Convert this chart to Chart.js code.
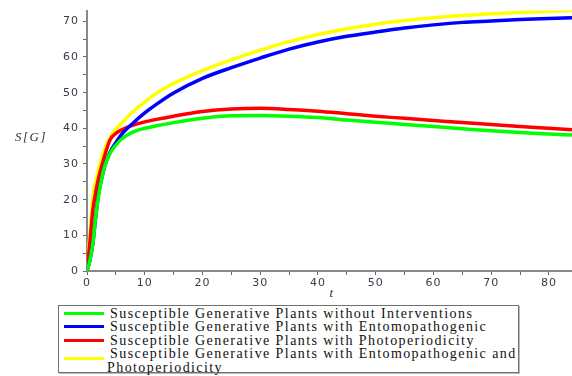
<!DOCTYPE html>
<html>
<head>
<meta charset="utf-8">
<script src="https://cdn.jsdelivr.net/npm/chart.js@4"></script>
<style>
  body { margin: 0; background: #fff; }
  #wrap { position: relative; width: 572px; height: 376px; }
  #legend {
    position: absolute; left: 58px; top: 305px; width: 461px; height: 68px;
    border: 1px solid #707070; box-shadow: 1px 1px 0 #bbb;
    font-family: "Liberation Serif", serif; font-size: 14px; color: #111;
    letter-spacing: 1.42px; white-space: nowrap;
    line-height: 13.4px; padding-top: 1px; box-sizing: border-box;
  }
  .row { position: relative; padding-left: 51px; }
  .row .swatch { position: absolute; left: 5px; top: 5px; width: 40px; height: 3px; }
  .row.two .swatch { top: 10px; }
  .row.two .cont { margin-left: -3px; }
</style>
</head>
<body>
<div id="wrap">
  <canvas id="chart" width="572" height="300"></canvas>
  <div id="legend"></div>
</div>
<script>
const times = [0, 0.5, 1, 1.5, 2, 3, 4, 5, 6, 8, 10, 12, 15, 20, 25, 30, 35, 40, 45, 50, 55, 60, 65, 70, 75, 80, 84];

const noIntervention = [0, 3, 7.5, 15, 21, 29, 33, 35.3, 37, 39, 40, 40.7, 41.6, 42.8, 43.5, 43.6, 43.4, 43, 42.3, 41.7, 41.1, 40.5, 39.9, 39.3, 38.8, 38.4, 38.1];
const entomo = [0, 3, 7.5, 15, 21.5, 29, 33.3, 36, 38.3, 41.5, 44.3, 46.7, 49.9, 54, 57, 59.7, 62.2, 64.2, 65.8, 67, 68.1, 69, 69.7, 70.1, 70.5, 70.8, 71];
const photo = [0, 8, 17, 22, 26, 32, 36.8, 38.6, 39.6, 40.9, 41.8, 42.5, 43.4, 44.7, 45.4, 45.6, 45.3, 44.8, 44.1, 43.4, 42.8, 42.2, 41.6, 41.1, 40.5, 40, 39.6];
const both = [0, 10, 20.5, 25, 28.5, 34, 37.5, 39.8, 41.5, 44.7, 47.4, 49.8, 52.6, 56.2, 59.2, 61.9, 64.3, 66.3, 67.9, 69.2, 70.2, 71, 71.6, 72.1, 72.5, 72.8, 73];

const seriesNames = [
  'Susceptible Generative Plants without Interventions',
  'Susceptible Generative Plants with Entomopathogenic',
  'Susceptible Generative Plants with Photoperiodicity',
  'Susceptible Generative Plants with Entomopathogenic and Photoperiodicity'
];
const seriesValues = [noIntervention, entomo, photo, both];
const seriesColors = ['#00ff00', '#0000ff', '#ff0000', '#ffff00'];

function pts(vals) {
  return times.map((t, i) => ({ x: t, y: vals[i] }));
}

// legend as html so the last entry can wrap like the original
const legend = document.getElementById('legend');
seriesNames.forEach((name, i) => {
  const row = document.createElement('div');
  row.className = 'row';
  if (i == 3) {
    row.classList.add('two');
    row.innerHTML = '<span class="swatch"></span>Susceptible Generative Plants with Entomopathogenic and<br><span class="cont">Photoperiodicity</span>';
  } else {
    row.innerHTML = '<span class="swatch"></span>' + name;
  }
  row.querySelector('.swatch').style.background = seriesColors[i];
  legend.appendChild(row);
});

// maple spaces its glyphs out a bit
const spacing = {
  id: 'spacing',
  beforeDraw(chart) { chart.ctx.letterSpacing = '1px'; }
};

const axisTitles = {
  id: 'axisTitles',
  afterDraw(chart) {
    const c = chart.ctx;
    c.save();
    c.fillStyle = '#333';
    c.letterSpacing = '1.5px';
    c.font = 'italic 13px "Liberation Serif"';
    c.textBaseline = 'middle';
    c.textAlign = 'left';
    c.fillText('S[G]', 15, 138);
    c.textAlign = 'center';
    c.fillText('t', 332, 294);
    c.restore();
  }
};

const tickFont = { family: 'DejaVu Sans', size: 11 };

new Chart(document.getElementById('chart'), {
  type: 'line',
  data: {
    datasets: seriesValues.map((vals, i) => ({
      label: seriesNames[i],
      data: pts(vals),
      borderColor: seriesColors[i],
      borderWidth: 3.5,
      pointRadius: 0,
      cubicInterpolationMode: 'monotone',
      fill: false
    }))
  },
  options: {
    responsive: false,
    animation: false,
    layout: { padding: { top: 6, right: 0, left: 0, bottom: 0 } },
    plugins: { legend: { display: false }, tooltip: { enabled: false } },
    scales: {
      x: {
        type: 'linear', min: 0, max: 84,
        ticks: {
          stepSize: 5, includeBounds: false, color: '#3a3a4a', font: tickFont, padding: 2,
          maxRotation: 0, autoSkip: false,
          callback: v => (v % 10 == 0 ? v : '')
        },
        grid: { drawOnChartArea: false, tickLength: 4, color: '#666' },
        border: { color: '#888', width: 2 },
        afterFit: s => { s.height = 29; }
      },
      y: {
        min: 0, max: 73,
        ticks: {
          stepSize: 5, includeBounds: false, color: '#3a3a4a', font: tickFont, padding: 4,
          autoSkip: false,
          callback: v => (v % 10 == 0 ? v : '')
        },
        grid: { drawOnChartArea: false, tickLength: 4, color: '#666' },
        border: { color: '#888', width: 2 },
        afterFit: s => { s.width = 87; }
      }
    }
  },
  plugins: [spacing, axisTitles]
});
</script>
</body>
</html>
